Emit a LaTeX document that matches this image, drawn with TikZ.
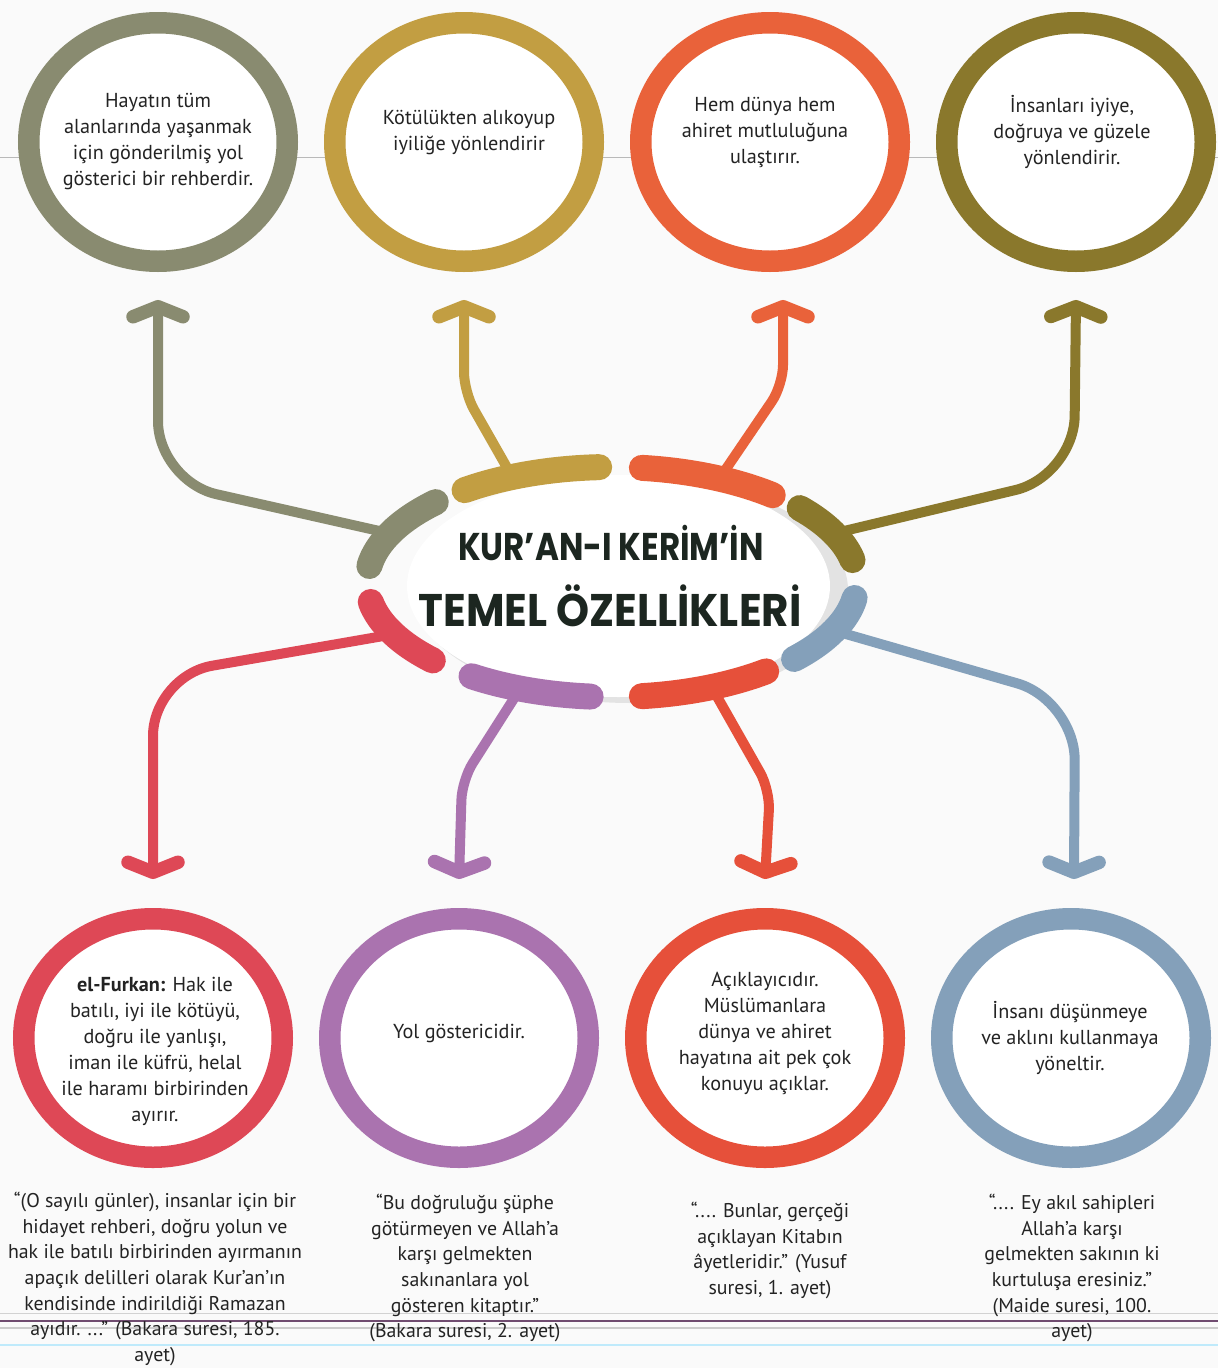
\documentclass[tikz,border=0pt]{standalone}
\usepackage{fontspec}
\setmainfont{PT Sans}
\newfontfamily\titlefont{Poppins}
\usetikzlibrary{arrows.meta, positioning, shapes.geometric, calc}

\definecolor{colSage}{RGB}{137,139,112}
\definecolor{colGold}{RGB}{194,158,66}
\definecolor{colCoral}{RGB}{233,98,58}
\definecolor{colOlive}{RGB}{138,120,44}
\definecolor{colRose}{RGB}{222,72,86}
\definecolor{colPlum}{RGB}{170,115,175}
\definecolor{colRed}{RGB}{230,80,58}
\definecolor{colSteel}{RGB}{132,160,186}
\definecolor{txt}{RGB}{35,35,35}
\definecolor{ttl}{RGB}{28,38,32}
\definecolor{paper}{RGB}{250,250,250}

\begin{document}
\begin{tikzpicture}[
    node distance={5.2mm},
    ring/.style = {
        draw,
        ellipse,
        line width=4.3mm,
        minimum width=5.17cm,
        minimum height=4.77cm,
        outer sep=2.15mm,
        fill=white
    },
    ringtext/.style = {
        align=center,
        text=txt,
        font=\fontsize{11.5}{14.8}\selectfont
    },
    quote/.style = {
        align=center,
        anchor=north,
        text=txt,
        font=\fontsize{11.3}{14.6}\selectfont
    },
    band/.style = {
        line width=5.2mm,
        line cap=round
    },
    myarrow/.style = {
        line width=2mm,
        -{Straight Barb[length=2mm, width=10mm, line width=2.7mm, round]}
    }
]
  \useasboundingbox (0,0) rectangle (24.36,-27.36);
  \fill[paper] (0,0) rectangle (24.36,-27.36);

  % page rules
  \draw[gray!55, line width=0.5pt] (0,-3.14) -- (24.36,-3.14);
  \draw[gray!35, line width=0.5pt] (0,-26.26) -- (24.36,-26.26);
  \draw[violet!40!black!70, line width=0.9pt] (0,-26.42) -- (24.36,-26.42);
  \draw[gray!40, line width=1.6pt] (0,-26.56) -- (24.36,-26.56);
  \draw[cyan!25, line width=0.6pt] (0,-26.9) -- (24.36,-26.9);

  % centre
  \coordinate (ctr) at (12.24,-11.64);
  \fill[gray!22] (12.6,-11.8) ellipse [x radius=4.36cm, y radius=2.26cm];
  \node[ellipse, fill=white, minimum width=8.46cm, minimum height=4.44cm] (hub) at (12.37,-11.72) {};
  \node[text=ttl, font=\titlefont\bfseries\fontsize{22}{24}\selectfont] (ttl1) at (12.22,-10.86) {\scalebox{0.84}[1]{KUR’AN-I KERİM’İN}};
  \node[text=ttl, font=\titlefont\bfseries\fontsize{26}{28}\selectfont] (ttl2) at (12.2,-12.12) {\scalebox{0.92}[1]{TEMEL ÖZELLİKLERİ}};

  % rings
  \node[ring, draw=colSage] (c1) at (3.16,-2.84) {};
  \node[ring, draw=colGold] (c2) [right=of c1] {};
  \node[ring, draw=colCoral] (c3) [right=of c2] {};
  \node[ring, draw=colOlive] (c4) [right=of c3] {};
  \node[ring, draw=colRose] (c5) at (3.06,-20.76) {};
  \node[ring, draw=colPlum] (c6) [right=of c5] {};
  \node[ring, draw=colRed] (c7) [right=of c6] {};
  \node[ring, draw=colSteel] (c8) [right=of c7] {};

  \node[ringtext] (x1) at (c1) {Hayatın tüm\\alanlarında yaşanmak\\için gönderilmiş yol\\gösterici bir rehberdir.};
  \node[ringtext] (x2) at ([xshift=1mm, yshift=1.8mm]c2) {Kötülükten alıkoyup\\iyiliğe yönlendirir};
  \node[ringtext] (x3) at ([xshift=-1mm, yshift=2mm]c3) {Hem dünya hem\\ahiret mutluluğuna\\ulaştırır.};
  \node[ringtext] (x4) at ([xshift=-0.8mm, yshift=2mm]c4) {İnsanları iyiye,\\doğruya ve güzele\\yönlendirir.};
  \node[ringtext] (x5) at ([xshift=0.4mm, yshift=-2.6mm]c5) {\textbf{el-Furkan:} Hak ile\\batılı, iyi ile kötüyü,\\doğru ile yanlışı,\\iman ile küfrü, helal\\ile haramı birbirinden\\ayırır.};
  \node[ringtext] (x6) at ([yshift=1mm]c6) {Yol göstericidir.};
  \node[ringtext] (x7) at ([yshift=1mm]c7) {Açıklayıcıdır.\\Müslümanlara\\dünya ve ahiret\\hayatına ait pek çok\\konuyu açıklar.};
  \node[ringtext] (x8) at ([xshift=-0.2mm]c8) {İnsanı düşünmeye\\ve aklını kullanmaya\\yöneltir.};

  \node[quote] (q5) at (3.1,-23.72) {“(O sayılı günler), insanlar için bir\\hidayet rehberi, doğru yolun ve\\hak ile batılı birbirinden ayırmanın\\apaçık delilleri olarak Kur’an’ın\\kendisinde indirildiği Ramazan\\ayıdır. ...” (Bakara suresi, 185.\\ayet)};
  \node[quote] (q6) at (9.3,-23.76) {“Bu doğruluğu şüphe\\götürmeyen ve Allah’a\\karşı gelmekten\\sakınanlara yol\\gösteren kitaptır.”\\(Bakara suresi, 2. ayet)};
  \node[quote] (q7) at (15.4,-23.92) {“.... Bunlar, gerçeği\\açıklayan Kitabın\\âyetleridir.” (Yusuf\\suresi, 1. ayet)};
  \node[quote] (q8) at (21.44,-23.76) {“.... Ey akıl sahipleri\\Allah’a karşı\\gelmekten sakının ki\\kurtuluşa eresiniz.”\\(Maide suresi, 100.\\ayet)};

  % junctions and bends
  \coordinate (j1) at ($(ctr)+(155:4.9cm and 2.3cm)$);
  \coordinate (j2) at ($(ctr)+(114:4.9cm and 2.3cm)$);
  \coordinate (j3) at ($(ctr)+(64:4.9cm and 2.3cm)$);
  \coordinate (j4) at ($(ctr)+(25:4.9cm and 2.3cm)$);
  \coordinate (j5) at ($(ctr)+(-153:4.9cm and 2.3cm)$);
  \coordinate (j6) at ($(ctr)+(-112:4.9cm and 2.3cm)$);
  \coordinate (j7) at ($(ctr)+(-66:4.9cm and 2.3cm)$);
  \coordinate (j8) at ($(ctr)+(-25:4.9cm and 2.3cm)$);
  \coordinate (k1) at (3.16,-9.62);
  \coordinate (k2) at (9.28,-7.84);
  \coordinate (k3) at (15.66,-7.7);
  \coordinate (k4) at (21.48,-9.52);
  \coordinate (k5) at (3.06,-13.52);
  \coordinate (k6) at (9.24,-15.6);
  \coordinate (k7) at (15.4,-15.8);
  \coordinate (k8) at (21.5,-14.0);

  \draw[myarrow, colSage, rounded corners=12mm] (j1) -- (k1) -- ([yshift=-5.6mm]c1.south);
  \draw[myarrow, colGold, rounded corners=4mm] (j2) -- (k2) -- ([yshift=-5.6mm]c2.south);
  \draw[myarrow, colCoral, rounded corners=4mm] (j3) -- (k3) -- ([xshift=2.6mm, yshift=-5.6mm]c3.south);
  \draw[myarrow, colOlive, rounded corners=12mm] (j4) -- (k4) -- ([yshift=-5.6mm]c4.south);
  \draw[myarrow, colRose, rounded corners=12mm] (j5) -- (k5) -- ([yshift=5.8mm]c5.north);
  \draw[myarrow, colPlum, rounded corners=4mm] (j6) -- (k6) -- ([yshift=5.8mm]c6.north);
  \draw[myarrow, colRed, rounded corners=4mm] (j7) -- (k7) -- ([yshift=5.8mm]c7.north);
  \draw[myarrow, colSteel, rounded corners=12mm] (j8) -- (k8) -- ([xshift=0.6mm, yshift=5.8mm]c8.north);

  % bands round the centre
  \draw[band, colSage] ($(ctr)+(136:4.9cm and 2.3cm)$) arc[start angle=136, end angle=172, x radius=4.9cm, y radius=2.3cm];
  \draw[band, colGold] ($(ctr)+(93:4.9cm and 2.3cm)$) arc[start angle=93, end angle=127, x radius=4.9cm, y radius=2.3cm];
  \draw[band, colCoral] ($(ctr)+(49:4.9cm and 2.3cm)$) arc[start angle=49, end angle=83, x radius=4.9cm, y radius=2.3cm];
  \draw[band, colOlive] ($(ctr)+(11:4.9cm and 2.3cm)$) arc[start angle=11, end angle=40, x radius=4.9cm, y radius=2.3cm];
  \draw[band, colSteel] ($(ctr)+(-42:4.9cm and 2.3cm)$) arc[start angle=-42, end angle=-8, x radius=4.9cm, y radius=2.3cm];
  \draw[band, colRed] ($(ctr)+(-83:4.9cm and 2.3cm)$) arc[start angle=-83, end angle=-51, x radius=4.9cm, y radius=2.3cm];
  \draw[band, colPlum] ($(ctr)+(-125:4.9cm and 2.3cm)$) arc[start angle=-125, end angle=-95, x radius=4.9cm, y radius=2.3cm];
  \draw[band, colRose] ($(ctr)+(-170:4.9cm and 2.3cm)$) arc[start angle=-170, end angle=-137, x radius=4.9cm, y radius=2.3cm];
\end{tikzpicture}
\end{document}
